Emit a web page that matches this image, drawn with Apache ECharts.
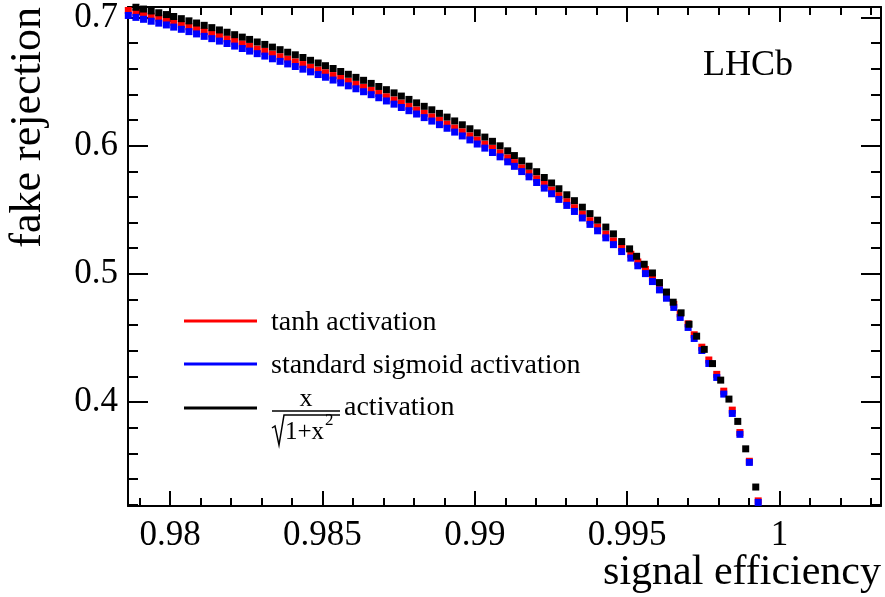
<!DOCTYPE html>
<html lang="en">
<head>
<meta charset="UTF-8">
<title>fake rejection vs signal efficiency</title>
<script src="https://cdn.jsdelivr.net/npm/echarts@6/dist/echarts.min.js"></script>
<style>html,body{margin:0;padding:0;background:#fff;}</style>
</head>
<body>
<div id="main" style="width:885px;height:597px;"></div>
<script type="text/javascript">
// tick positions
var xTickMajor = [0.98, 0.985, 0.99, 0.995, 1];
var xTickMinor = [0.979, 0.981, 0.982, 0.983, 0.984, 0.986, 0.987, 0.988, 0.989, 0.991, 0.992, 0.993, 0.994,
                  0.996, 0.997, 0.998, 0.999, 1.001, 1.002, 1.003];
var yTickMajor = [0.4, 0.5, 0.6, 0.7];
var yTickMinor = [0.32, 0.34, 0.36, 0.38, 0.42, 0.44, 0.46, 0.48, 0.52, 0.54, 0.56, 0.58, 0.62, 0.64, 0.66, 0.68];

// x/sqrt(1+x^2) activation
var effBlack = [0.97863, 0.97888, 0.97913, 0.97938, 0.97963, 0.97988, 0.98012, 0.98037, 0.98062, 0.98087,
                0.98112, 0.98137, 0.98162, 0.98187, 0.98212, 0.98237, 0.98261, 0.98286, 0.98311, 0.98336,
                0.98361, 0.98386, 0.98411, 0.98436, 0.98461, 0.98486, 0.98510, 0.98535, 0.98560, 0.98585,
                0.98610, 0.98635, 0.98660, 0.98685, 0.98710, 0.98735, 0.98759, 0.98784, 0.98809, 0.98834,
                0.98859, 0.98884, 0.98909, 0.98934, 0.98959, 0.98984, 0.99008, 0.99033, 0.99058, 0.99083,
                0.99108, 0.99130, 0.99154, 0.99178, 0.99203, 0.99228, 0.99252, 0.99276, 0.99302, 0.99327,
                0.99353, 0.99378, 0.99403, 0.99430, 0.99455, 0.99482, 0.99508, 0.99531, 0.99556, 0.99583,
                0.99606, 0.99629, 0.99651, 0.99677, 0.99703, 0.99728, 0.99753, 0.99780, 0.99807, 0.99834,
                0.99863, 0.99889, 0.99922];
var rejBlack = [0.7094, 0.7080, 0.7066, 0.7051, 0.7037, 0.7023, 0.7008, 0.6991, 0.6974, 0.6957,
                0.6939, 0.6921, 0.6903, 0.6885, 0.6866, 0.6847, 0.6829, 0.6809, 0.6790, 0.6769,
                0.6749, 0.6729, 0.6709, 0.6688, 0.6666, 0.6645, 0.6624, 0.6602, 0.6579, 0.6557,
                0.6533, 0.6510, 0.6486, 0.6462, 0.6437, 0.6412, 0.6387, 0.6361, 0.6334, 0.6307,
                0.6280, 0.6252, 0.6223, 0.6193, 0.6163, 0.6132, 0.6100, 0.6067, 0.6034, 0.5999,
                0.5960, 0.5923, 0.5882, 0.5840, 0.5797, 0.5752, 0.5709, 0.5664, 0.5617, 0.5571,
                0.5520, 0.5470, 0.5419, 0.5365, 0.5312, 0.5252, 0.5195, 0.5137, 0.5075, 0.5007,
                0.4932, 0.4858, 0.4779, 0.4696, 0.4607, 0.4514, 0.4411, 0.4300, 0.4171, 0.4023,
                0.3849, 0.3635, 0.3337];

// tanh and standard sigmoid share the efficiency points
var effRB = [0.97863, 0.97888, 0.97913, 0.97938, 0.97963, 0.97988, 0.98012, 0.98037, 0.98062, 0.98087,
             0.98112, 0.98137, 0.98162, 0.98187, 0.98212, 0.98237, 0.98261, 0.98286, 0.98311, 0.98336,
             0.98361, 0.98386, 0.98411, 0.98436, 0.98461, 0.98486, 0.98510, 0.98535, 0.98560, 0.98585,
             0.98610, 0.98635, 0.98660, 0.98685, 0.98710, 0.98735, 0.98759, 0.98784, 0.98809, 0.98834,
             0.98859, 0.98884, 0.98909, 0.98934, 0.98959, 0.98984, 0.99008, 0.99033, 0.99058, 0.99083,
             0.99108, 0.99130, 0.99154, 0.99178, 0.99203, 0.99228, 0.99252, 0.99276, 0.99302, 0.99327,
             0.99353, 0.99378, 0.99403, 0.99430, 0.99455, 0.99482, 0.99512, 0.99535, 0.99560, 0.99583,
             0.99606, 0.99629, 0.99653, 0.99674, 0.99700, 0.99720, 0.99745, 0.99768, 0.99794, 0.99817,
             0.99845, 0.99870, 0.99901, 0.99930];
var rejRed = [0.7055, 0.7040, 0.7025, 0.7010, 0.6995, 0.6980, 0.6963, 0.6946, 0.6928, 0.6910,
              0.6891, 0.6872, 0.6853, 0.6833, 0.6814, 0.6794, 0.6774, 0.6754, 0.6735, 0.6714,
              0.6694, 0.6674, 0.6654, 0.6633, 0.6611, 0.6590, 0.6569, 0.6547, 0.6524, 0.6502,
              0.6478, 0.6455, 0.6431, 0.6407, 0.6382, 0.6357, 0.6332, 0.6306, 0.6279, 0.6252,
              0.6225, 0.6197, 0.6168, 0.6138, 0.6108, 0.6077, 0.6045, 0.6012, 0.5979, 0.5944,
              0.5905, 0.5868, 0.5827, 0.5786, 0.5742, 0.5698, 0.5654, 0.5610, 0.5563, 0.5516,
              0.5465, 0.5415, 0.5365, 0.5310, 0.5257, 0.5203, 0.5153, 0.5093, 0.5034, 0.4971,
              0.4901, 0.4833, 0.4762, 0.4688, 0.4610, 0.4525, 0.4428, 0.4328, 0.4216, 0.4085,
              0.3937, 0.3762, 0.3538, 0.3229];
var rejBlue = [0.7016, 0.7001, 0.6986, 0.6971, 0.6956, 0.6942, 0.6925, 0.6908, 0.6890, 0.6872,
               0.6853, 0.6835, 0.6816, 0.6797, 0.6777, 0.6758, 0.6738, 0.6718, 0.6699, 0.6678,
               0.6658, 0.6638, 0.6618, 0.6597, 0.6576, 0.6555, 0.6534, 0.6512, 0.6490, 0.6467,
               0.6444, 0.6421, 0.6398, 0.6374, 0.6349, 0.6324, 0.6298, 0.6273, 0.6247, 0.6219,
               0.6192, 0.6164, 0.6136, 0.6106, 0.6076, 0.6045, 0.6013, 0.5981, 0.5947, 0.5913,
               0.5874, 0.5839, 0.5798, 0.5757, 0.5713, 0.5669, 0.5625, 0.5581, 0.5534, 0.5487,
               0.5436, 0.5386, 0.5336, 0.5281, 0.5228, 0.5174, 0.5123, 0.5063, 0.5002, 0.4940,
               0.4875, 0.4810, 0.4738, 0.4660, 0.4582, 0.4496, 0.4402, 0.4301, 0.4192, 0.4062,
               0.3911, 0.3748, 0.3529, 0.3217];

var serif = '"Liberation Serif", "Times New Roman", serif';

function pairs(xs, ys) {
    return xs.map(function (x, i) { return [x, ys[i]]; });
}

// one axis per side for major ticks, one more for minor ticks (ROOT style frame)
function xAxis(pos, ticks, len, main) {
    return {
        type: 'value', position: pos, min: 0.97862, max: 1.00333,
        splitLine: {show: false},
        axisLine: {show: main, onZero: false, lineStyle: {color: '#000', width: 2}},
        axisTick: {show: true, inside: true, length: len, customValues: ticks,
                   lineStyle: {color: '#000', width: 2}},
        axisLabel: (main && pos === 'bottom') ? {
            show: true, customValues: ticks, margin: 12, color: '#000',
            fontFamily: serif, fontSize: 35,
            formatter: function (v) { return String(+v.toFixed(3)); }
        } : {show: false}
    };
}
function yAxis(pos, ticks, len, main) {
    return {
        type: 'value', position: pos, min: 0.3189, max: 0.7082,
        splitLine: {show: false},
        axisLine: {show: main, onZero: false, lineStyle: {color: '#000', width: 2}},
        axisTick: {show: true, inside: true, length: len, customValues: ticks,
                   lineStyle: {color: '#000', width: 2}},
        axisLabel: (main && pos === 'left') ? {
            show: true, customValues: ticks, margin: 10, color: '#000',
            fontFamily: serif, fontSize: 35,
            formatter: function (v) { return v.toFixed(1); }
        } : {show: false}
    };
}

function series(name, xs, ys, color) {
    return {
        name: name, type: 'scatter', xAxisIndex: 0, yAxisIndex: 0,
        symbol: 'rect', symbolSize: 7, silent: true,
        itemStyle: {color: color, opacity: 1},
        data: pairs(xs, ys)
    };
}

var myChart = echarts.init(document.getElementById('main'));

var option = {
    animation: false,
    backgroundColor: '#fff',
    grid: {left: 128, right: 4, top: 7, bottom: 91, containLabel: false},
    xAxis: [
        xAxis('bottom', xTickMajor, 15, true),
        xAxis('bottom', xTickMinor, 8, false),
        xAxis('top', xTickMajor, 15, true),
        xAxis('top', xTickMinor, 8, false)
    ],
    yAxis: [
        yAxis('left', yTickMajor, 20, true),
        yAxis('left', yTickMinor, 10, false),
        yAxis('right', yTickMajor, 20, true),
        yAxis('right', yTickMinor, 10, false)
    ],
    series: [
        series('tanh activation', effRB, rejRed, '#ff0000'),
        series('standard sigmoid activation', effRB, rejBlue, '#0000ff'),
        series('x/sqrt(1+x^2) activation', effBlack, rejBlack, '#000000')
    ],
    graphic: [
        // titles
        {type: 'text', x: 881, y: 573, silent: true,
         style: {text: 'signal efficiency', font: '42px ' + serif, fill: '#000', align: 'right', verticalAlign: 'middle'}},
        {type: 'text', x: 28, y: 7, rotation: Math.PI / 2, silent: true,
         style: {text: 'fake rejection', font: '44px ' + serif, fill: '#000', align: 'right', verticalAlign: 'middle'}},
        {type: 'text', x: 703, y: 66, silent: true,
         style: {text: 'LHCb', font: '36px ' + serif, fill: '#000', align: 'left', verticalAlign: 'middle'}},
        // legend
        {type: 'line', silent: true, shape: {x1: 184, y1: 321, x2: 257, y2: 321}, style: {stroke: '#ff0000', lineWidth: 3}},
        {type: 'line', silent: true, shape: {x1: 184, y1: 364, x2: 257, y2: 364}, style: {stroke: '#0000ff', lineWidth: 3}},
        {type: 'line', silent: true, shape: {x1: 184, y1: 408, x2: 257, y2: 408}, style: {stroke: '#000000', lineWidth: 3}},
        {type: 'text', x: 271, y: 323, silent: true,
         style: {text: 'tanh activation', font: '28px ' + serif, fill: '#000', align: 'left', verticalAlign: 'middle'}},
        {type: 'text', x: 271, y: 366, silent: true,
         style: {text: 'standard sigmoid activation', font: '28px ' + serif, fill: '#000', align: 'left', verticalAlign: 'middle'}},
        {type: 'text', x: 306, y: 399, silent: true,
         style: {text: 'x', font: '26px ' + serif, fill: '#000', align: 'center', verticalAlign: 'middle'}},
        {type: 'line', silent: true, shape: {x1: 272, y1: 411, x2: 340, y2: 411}, style: {stroke: '#000', lineWidth: 1.5}},
        {type: 'polyline', silent: true, shape: {points: [[272, 428], [275, 426], [279, 445], [284, 415], [340, 415]]},
         style: {stroke: '#000', lineWidth: 1.5, fill: null}},
        {type: 'text', x: 285, y: 432, silent: true,
         style: {text: '1+x', font: '25px ' + serif, fill: '#000', align: 'left', verticalAlign: 'middle'}},
        {type: 'text', x: 325, y: 421, silent: true,
         style: {text: '2', font: '17px ' + serif, fill: '#000', align: 'left', verticalAlign: 'middle'}},
        {type: 'text', x: 344, y: 408, silent: true,
         style: {text: 'activation', font: '28px ' + serif, fill: '#000', align: 'left', verticalAlign: 'middle'}}
    ]
};

myChart.setOption(option);
</script>
</body>
</html>
